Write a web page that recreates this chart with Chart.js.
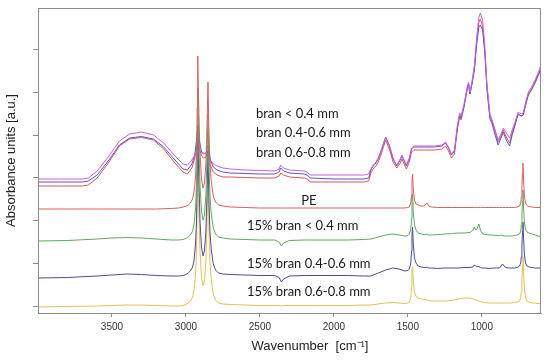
<!DOCTYPE html>
<html>
<head>
<meta charset="utf-8">
<script src="https://cdn.jsdelivr.net/npm/chart.js@4.4.1/dist/chart.umd.min.js"></script>
<style>
  html, body { margin: 0; padding: 0; background: #fff; }
</style>
</head>
<body>
<canvas id="ftir" width="550" height="360"></canvas>
<script>
// FTIR spectra, stacked (arbitrary absorbance units, offsets included)

// wavenumber grid for the three bran spectra at the top
const topWn = [
  4000, 3850, 3700, 3660, 3600, 3520, 3450, 3380, 3300, 3220,
  3150, 3080, 3020, 2990, 2960, 2940, 2930, 2920, 2910, 2895,
  2880, 2865, 2850, 2835, 2815, 2790, 2750, 2700, 2600, 2500,
  2400, 2370, 2360, 2340, 2300, 2200, 2180, 2160, 2000, 1900,
  1800, 1765, 1750, 1735, 1720, 1700, 1680, 1650, 1625, 1600,
  1575, 1555, 1540, 1525, 1510, 1490, 1475, 1460, 1430, 1380,
  1320, 1270, 1245, 1225, 1205, 1185, 1165, 1150, 1140, 1120,
  1100, 1090, 1080, 1065, 1050, 1035, 1020, 1010, 995, 980,
  965, 945, 930, 910, 890, 870, 855, 835, 812, 795,
  775, 755, 735, 720, 700, 685, 660, 640, 620, 600
];

const branSmall = [
  134, 134, 134, 135, 142, 157, 172, 179, 181, 178,
  170, 158, 149, 148, 153, 158, 162, 167, 163, 160,
  160, 159, 160, 153, 149, 147, 145, 144, 143, 142.5,
  142, 144, 148, 145, 143, 142, 141, 138, 138, 138,
  138, 139, 144, 148, 150, 155, 163, 176, 168, 155,
  148, 153, 158, 153, 148, 155, 165, 167, 167, 167,
  167, 168, 171, 166, 159, 163, 188, 200, 197, 209,
  225, 231, 221, 233, 248, 275, 296, 300, 293, 268,
  228, 199, 193, 183, 173, 179, 185, 180, 175, 183,
  191, 201, 199, 200, 213, 221, 227, 233, 240, 248
];

const branMid = [
  131, 131, 131, 132, 138, 153, 168, 175, 176.5, 174,
  166, 154, 144, 143, 149, 158, 171, 188, 173, 161,
  159, 160, 168, 153, 146, 143, 141, 140, 139.5, 139,
  139, 141, 145, 142, 140, 139, 138, 135, 134, 134,
  134, 135, 143, 147, 149, 154, 162, 176, 167, 154,
  147, 152, 157, 152, 147, 154, 164, 166, 166, 166,
  166, 167, 170, 165, 158, 162, 186, 198, 195, 207,
  223, 229, 219, 230, 243, 268, 286, 288, 283, 261,
  223, 194, 189, 178, 168, 175, 181, 173, 167, 178,
  188, 199, 197, 198, 211, 219, 225, 231, 238, 245
];

const branLarge = [
  127, 127, 127, 128, 135, 151, 167, 174, 175.5, 173,
  164, 151, 141, 139, 145, 155, 163, 175, 165, 157,
  155, 156, 163, 148, 141, 138, 136, 136, 135.5, 135,
  135, 137, 140, 138, 136, 135, 134, 131, 131, 131,
  131, 132, 140, 144, 146, 151, 159, 173, 164, 151,
  145, 149, 154, 149, 144, 151, 161, 163, 163, 163,
  163, 164, 167, 162, 155, 159, 184, 196, 193, 206,
  223, 229, 219, 231, 245, 271, 291, 294, 287, 263,
  225, 196, 191, 181, 171, 177, 183, 176, 170, 180,
  189, 199, 197, 198, 210, 218, 224, 230, 237, 243
];

// wavenumber grid for PE and the 15% bran composites
const lowWn = [
  4000, 3800, 3600, 3500, 3400, 3300, 3200, 3100, 3050, 3020,
  3000, 2985, 2970, 2955, 2945, 2935, 2928, 2924, 2920, 2915,
  2905, 2895, 2885, 2875, 2865, 2858, 2851, 2845, 2838, 2828,
  2815, 2800, 2780, 2750, 2700, 2600, 2500, 2400, 2370, 2355,
  2340, 2300, 2200, 2100, 2000, 1900, 1800, 1750, 1700, 1650,
  1600, 1560, 1520, 1500, 1490, 1480, 1475, 1472, 1468, 1463,
  1455, 1445, 1430, 1410, 1390, 1378, 1370, 1360, 1340, 1300,
  1250, 1200, 1160, 1120, 1080, 1060, 1050, 1040, 1030, 1020,
  1010, 1000, 980, 950, 920, 900, 880, 870, 860, 840,
  820, 800, 780, 760, 745, 737, 733, 729, 725, 722,
  718, 712, 705, 695, 680, 660, 640, 620, 600
];

const pe = [
  104, 104, 104, 104, 104, 104, 104, 104.5, 105, 106,
  107, 108, 110, 114, 121, 137, 162, 205, 257, 215,
  160, 134, 125, 130, 150, 185, 231, 185, 150, 130,
  117, 111, 108, 107, 106, 105.5, 105, 105, 105, 105,
  105, 105, 105, 105, 105, 105, 105, 105, 105, 105,
  105, 105, 105, 105.5, 106, 110, 118, 132, 139, 124,
  113, 109, 108, 107, 107, 109, 110, 107, 106, 105.5,
  105.5, 105.5, 105.5, 105.5, 105.5, 105.5, 105.5, 105.5, 105.5, 105.5,
  105.5, 105.5, 105.5, 105.5, 105.5, 105.5, 105.5, 105.5, 105.5, 105.5,
  105.5, 105.5, 105.5, 106, 107, 110, 116, 126, 140, 150,
  134, 117, 110, 107.5, 106.5, 106, 105.5, 105.5, 105.5
];

const mixSmall = [
  72, 72.5, 74, 75, 75.5, 75, 74, 73, 73, 73.5,
  74.5, 76, 78, 82, 89, 105, 130, 173, 225, 183,
  128, 102, 93, 98, 118, 153, 199, 153, 118, 98,
  85, 79, 76, 75, 74, 73.5, 73, 73, 71, 67,
  70, 72.5, 73, 73, 73, 73, 73.5, 74, 76, 78,
  79, 78, 77, 77.5, 79, 84, 95, 112, 119, 100,
  88, 83, 80, 79, 78.5, 78.5, 79, 78, 78, 78.5,
  79, 79.5, 80, 80, 80.5, 83, 86, 83, 85, 89,
  83, 80, 78.5, 78, 78, 77.5, 77.5, 78, 77.5, 77,
  77, 77, 77.5, 78, 79, 82, 88, 98, 112, 123,
  106, 90, 84, 81, 80, 79, 78, 77, 76.5
];

const mixMid = [
  35, 35.5, 37, 38, 39, 38.5, 37.5, 37, 37, 37.5,
  38.5, 40, 42, 46, 53, 69, 94, 137, 188, 147,
  92, 66, 57, 62, 82, 117, 162, 117, 82, 62,
  49, 43, 40, 39, 38.5, 38, 37.5, 37.5, 35.5, 31,
  34, 37, 37.5, 37.5, 37.5, 37.5, 37, 37, 40, 43,
  45, 44, 42, 42.5, 44, 50, 62, 80, 86, 68,
  55, 50, 47, 46, 45.5, 45.5, 46, 45, 45, 44.5,
  45, 45, 45, 45.5, 45.5, 46, 48, 47, 46.5, 46.5,
  45.5, 45, 45, 44.5, 45, 45, 45, 47, 49, 45.5,
  45, 45, 45, 45.5, 47, 50, 56, 67, 82, 91,
  76, 58, 50, 47, 46, 45.5, 45, 45, 45
];

const mixLarge = [
  6, 6.5, 7, 7.5, 8, 8, 7.5, 7, 7, 7.5,
  8.5, 10, 12, 16, 23, 39, 64, 107, 159, 117,
  62, 36, 27, 32, 52, 87, 133, 87, 52, 32,
  19, 13, 10, 9, 8.5, 8, 7.5, 7.5, 7.5, 7,
  7.5, 7.5, 7.5, 7.5, 7.5, 7.5, 8, 8, 9, 10,
  10.5, 10, 9.5, 10, 11, 16, 26, 42, 47, 32,
  21, 17, 15, 14, 13.5, 13.5, 13, 12.5, 12, 12,
  12, 12.5, 14, 15, 15, 14, 13.5, 13, 12.5, 12,
  11.5, 11, 10.5, 10, 10, 10, 10, 10, 10, 10,
  10, 10, 10.5, 11, 12, 15, 21, 32, 46, 56,
  41, 24, 16, 12, 11, 10, 10, 9.5, 9.5
];

const xTickValues = [3500, 3000, 2500, 2000, 1500, 1000];
const yTickValues = [7, 50, 93, 135, 178, 221, 264];

// sample names written inside the plot, placed in data coordinates
const sampleLabels = [
  { text: 'bran < 0.4 mm', wn: 2527, v: 199, align: 'left' },
  { text: 'bran 0.4-0.6 mm', wn: 2527, v: 180, align: 'left' },
  { text: 'bran 0.6-0.8 mm', wn: 2527, v: 160, align: 'left' },
  { text: 'PE', wn: 2169, v: 112, align: 'center' },
  { text: '15% bran < 0.4 mm', wn: 2588, v: 87, align: 'left' },
  { text: '15% bran 0.4-0.6 mm', wn: 2588, v: 49, align: 'left' },
  { text: '15% bran 0.6-0.8 mm', wn: 2588, v: 21, align: 'left' }
];

const AXIS_FONT = "'Liberation Sans', Arial, sans-serif";
const NOTE_FONT = "Lato, 'Open Sans', sans-serif";

function toPoints(wn, vals) {
  return wn.map((x, i) => ({ x: x, y: vals[i] }));
}

function line(label, wn, vals, color) {
  return {
    label: label,
    data: toPoints(wn, vals),
    borderColor: color,
    borderWidth: 1,
    pointRadius: 0,
    fill: false,
    tension: 0
  };
}

const boxAndNotes = {
  id: 'boxAndNotes',
  afterDatasetsDraw(chart) {
    const ctx = chart.ctx;
    const a = chart.chartArea;
    const xs = chart.scales.x;
    const ys = chart.scales.y;

    ctx.save();
    // frame around the plot
    ctx.strokeStyle = '#8c8c8c';
    ctx.lineWidth = 1;
    ctx.strokeRect(Math.round(a.left) + 0.5, Math.round(a.top) + 0.5,
                   Math.round(a.right - a.left) - 1, Math.round(a.bottom - a.top));

    // sample names
    ctx.fillStyle = '#1a1a1a';
    ctx.font = '13px ' + NOTE_FONT;
    ctx.textBaseline = 'middle';
    sampleLabels.forEach(l => {
      ctx.textAlign = l.align;
      ctx.fillText(l.text, xs.getPixelForValue(l.wn), ys.getPixelForValue(l.v));
    });

    // x axis title, sits right of centre in the original
    ctx.fillStyle = '#222';
    ctx.font = '13px ' + AXIS_FONT;
    ctx.textAlign = 'center';
    ctx.fillText('Wavenumber  [cm\u207B\u00B9]', 310, 346);
    ctx.restore();
  }
};

const chart = new Chart(document.getElementById('ftir'), {
  type: 'line',
  data: {
    datasets: [
      line('PE', lowWn, pe, '#d9605e'),
      line('15% bran < 0.4 mm', lowWn, mixSmall, '#5daa5d'),
      line('15% bran 0.4-0.6 mm', lowWn, mixMid, '#4b4b9c'),
      line('15% bran 0.6-0.8 mm', lowWn, mixLarge, '#e2c155'),
      line('bran < 0.4 mm', topWn, branSmall, '#c95fd8'),
      line('bran 0.4-0.6 mm', topWn, branMid, '#5656cf'),
      line('bran 0.6-0.8 mm', topWn, branLarge, '#dd5555')
    ]
  },
  options: {
    responsive: false,
    animation: false,
    layout: { padding: { left: 0, right: 9, top: 8, bottom: 0 } },
    plugins: {
      legend: { display: false },
      tooltip: { enabled: false }
    },
    scales: {
      x: {
        type: 'linear',
        reverse: true,
        min: 600,
        max: 4000,
        afterBuildTicks: s => { s.ticks = xTickValues.map(v => ({ value: v })); },
        afterFit: s => { s.height = 47; },
        grid: { display: true, drawOnChartArea: false, drawTicks: true, tickLength: 4, color: '#8c8c8c' },
        border: { display: true, color: '#8c8c8c' },
        ticks: {
          font: { size: 10, family: AXIS_FONT },
          color: '#333',
          padding: 4,
          maxRotation: 0,
          callback: value => String(value)
        }
      },
      y: {
        type: 'linear',
        min: 0,
        max: 305,
        afterBuildTicks: s => { s.ticks = yTickValues.map(v => ({ value: v })); },
        afterFit: s => { s.width = 38; },
        grid: { display: true, drawOnChartArea: false, drawTicks: true, tickLength: 5, color: '#8c8c8c' },
        border: { display: true, color: '#8c8c8c' },
        ticks: { display: false },
        title: {
          display: true,
          text: 'Absorbance units [a.u.]',
          font: { size: 13, family: AXIS_FONT },
          color: '#222',
          padding: { top: 4, bottom: 0 }
        }
      }
    }
  },
  plugins: [boxAndNotes]
});
</script>
</body>
</html>
